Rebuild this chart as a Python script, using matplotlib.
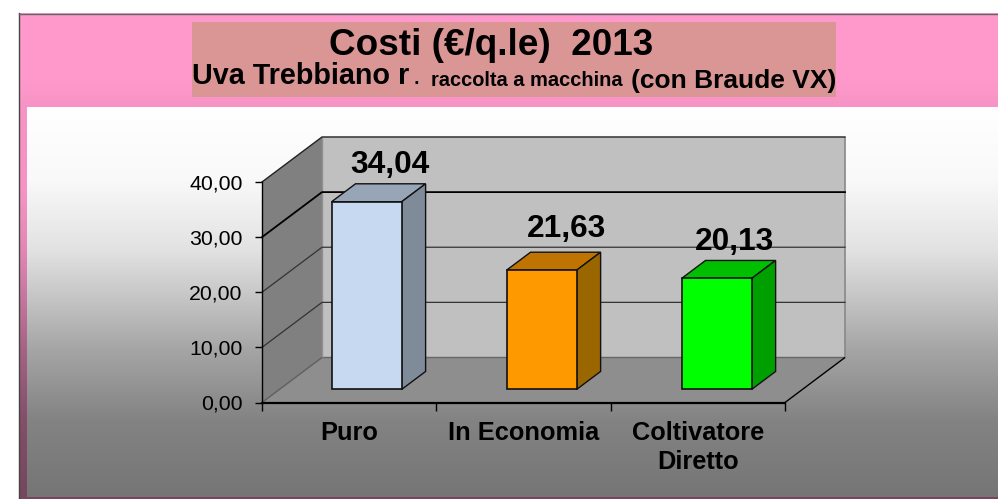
import numpy as np
import matplotlib
matplotlib.use("Agg")
import matplotlib.pyplot as plt
from matplotlib.patches import Polygon, Rectangle

plt.rcParams['font.family'] = ['Liberation Sans', 'DejaVu Sans']

categories = ["Puro", "In Economia", "Coltivatore\nDiretto"]
values = [34.04, 21.63, 20.13]
value_labels = ["34,04", "21,63", "20,13"]
y_ticks = [0, 10, 20, 30, 40]
y_labels = ["0,00", "10,00", "20,00", "30,00", "40,00"]
front_colors = ["#C6D9F1", "#FF9900", "#00FF00"]
top_colors = ["#98A5B6", "#BF7300", "#00BF00"]
side_colors = ["#7F8B99", "#996600", "#009F00"]

W, H = 998, 499
fig = plt.figure(figsize=(W / 100, H / 100), dpi=100, facecolor="white")

# ---- background, in pixel coordinates
bg = fig.add_axes([0, 0, 1, 1], zorder=0)
bg.axis("off")

stop_y = [107, 180, 250, 300, 350, 420, 499]
stop_g = [255, 249, 226, 196, 165, 131, 117]
rows = np.arange(H) + 0.5
gray = np.interp(rows, stop_y, stop_g) / 255.0
pink_top = np.array([255, 153, 204]) / 255.0
shade = np.where(rows < 107, np.interp(rows, [13, 80, 107], [1, 1, .965]),
                 np.minimum(.965, gray))
pink = shade[:, None, None] * pink_top[None, None, :]
panel = np.repeat(gray[:, None, None], 3, axis=2)

bg.imshow(pink[13:499], extent=(19.5, W, 499, 13), aspect="auto", zorder=1)
bg.imshow(panel[107:497], extent=(27, W, 497, 107), aspect="auto", zorder=2)
bg.set_xlim(0, W)
bg.set_ylim(H, 0)
bg.plot([19.5, 19.5], [13, H], color="#444444", lw=1, zorder=3)
bg.plot([19, W], [13.5, 13.5], color="#666666", lw=1, zorder=3)
bg.add_patch(Rectangle((192, 22), 644, 75, facecolor="#DA9694", edgecolor="none", zorder=3))

bg.text(491.5, 55, "Costi (€/q.le)  2013", fontsize=26.6, fontweight="bold", ha="center", va="baseline", zorder=4, color="black")
bg.text(192, 84, "Uva Trebbiano r", fontsize=20.7, fontweight="bold", ha="left", va="baseline", zorder=4, color="black")
bg.text(413, 84, ".", fontsize=20, ha="left", va="baseline", zorder=4, color="black")
bg.text(431, 86, "raccolta a macchina", fontsize=14.4, fontweight="bold", ha="left", va="baseline", zorder=4, color="black")
bg.text(631, 88, "(con Braude VX)", fontsize=19, fontweight="bold", ha="left", va="baseline", zorder=4, color="black")

# ---- chart: the axes is the front plane of the 3D box
ax = fig.add_axes([262 / W, 1 - 402.5 / H, (785 - 262) / W, (402.5 - 182) / H], zorder=1)
ax.patch.set_alpha(0)
ax.set_xlim(0, len(categories))
ax.set_ylim(y_ticks[0], y_ticks[-1])

DX = 60 / 174.33  # full depth in category units
DY = 45 / 5.51    # full depth in value units


def proj(x, v, z):
    return (x + z * DX, v + z * DY)


def poly(points, **kw):
    ax.add_patch(Polygon(points, closed=True, clip_on=False, **kw))


xmax = len(categories)
ymax = y_ticks[-1]
# walls
poly([proj(0, 0, 1), proj(xmax, 0, 1), proj(xmax, ymax, 1), proj(0, ymax, 1)],
     facecolor="#C0C0C0", edgecolor="none", zorder=1)
poly([proj(0, 0, 0), proj(0, 0, 1), proj(0, ymax, 1), proj(0, ymax, 0)],
     facecolor="#808080", edgecolor="none", zorder=1)
poly([proj(0, 0, 0), proj(xmax, 0, 0), proj(xmax, 0, 1), proj(0, 0, 1)],
     facecolor="#8E8E8E", edgecolor="none", zorder=1)
# box edges
line = dict(clip_on=False, solid_capstyle="butt")
for a, b, c, w in [((0, 0, 1), (xmax, 0, 1), "#666666", 1),
                   ((xmax, 0, 1), (xmax, ymax, 1), "#888888", 1.2),
                   ((0, 0, 1), (0, ymax, 1), "#909090", 1),
                   ((0, 0, 0), (0, 0, 1), "#606060", 1),
                   ((xmax, 0, 0), (xmax, 0, 1), "#000000", 1)]:
    pa, pb = proj(*a), proj(*b)
    ax.plot([pa[0], pb[0]], [pa[1], pb[1]], color=c, lw=w, zorder=2, **line)
# gridlines on the walls
grid_w = {10: 0.9, 20: 0.9, 30: 1.3, 40: 1.0}
grid_c = {10: "#333333", 20: "#333333", 30: "#000000", 40: "#222222"}
for t in y_ticks[1:]:
    p0, p1, p2 = proj(0, t, 0), proj(0, t, 1), proj(xmax, t, 1)
    ax.plot([p0[0], p1[0], p2[0]], [p0[1], p1[1], p2[1]], color=grid_c[t],
            lw=grid_w[t], zorder=2, clip_on=False)

# bars
z0, z1 = 0.29, 0.69
bar_w = 0.402
bar_step = 175 / 174.33
for i, v in enumerate(values):
    c = 0.5 + i * bar_step
    left = c - bar_w / 2
    right = left + bar_w
    base = z0 * DY
    ax.bar(proj(c, 0, z0)[0], v, bar_w, bottom=base, color=front_colors[i],
           edgecolor="#111111", linewidth=1.2, zorder=5, clip_on=False)
    poly([proj(left, v, z0), proj(right, v, z0), proj(right, v, z1), proj(left, v, z1)],
         facecolor=top_colors[i], edgecolor="#111111", linewidth=1.0, zorder=4)
    poly([proj(right, 0, z0), proj(right, 0, z1), proj(right, v, z1), proj(right, v, z0)],
         facecolor=side_colors[i], edgecolor="#111111", linewidth=1.0, zorder=4)

# axes furniture
for s in ["top", "right"]:
    ax.spines[s].set_visible(False)
ax.spines["left"].set_linewidth(1.0)
ax.spines["bottom"].set_linewidth(1.6)
ax.spines["left"].set_zorder(6)
ax.spines["bottom"].set_zorder(6)
ax.set_yticks(y_ticks)
ax.set_yticklabels(y_labels, fontsize=15.3, color="black")
ax.tick_params(axis="y", length=5, width=1, pad=9)
ax.set_xticks(range(len(categories) + 1))
ax.set_xticklabels([])
ax.tick_params(axis="x", which="major", length=6, width=1)
ax.set_xticks([i + 0.5 for i in range(len(categories))], minor=True)
ax.set_xticklabels(categories, minor=True, fontsize=18.3, fontweight="bold",
                   color="black", linespacing=1.3)
ax.tick_params(axis="x", which="minor", length=0, pad=13)

# data labels sit slightly off the bars, in pixel coordinates
label_x = [389.5, 566.5, 734]
label_y = [173, 237, 250]
for x, y, s in zip(label_x, label_y, value_labels):
    fig.text(x / W, 1 - y / H, s, fontsize=22.8, fontweight="bold", ha="center", va="baseline",
             zorder=10, color="black")

fig.savefig("out.png", dpi=100)
